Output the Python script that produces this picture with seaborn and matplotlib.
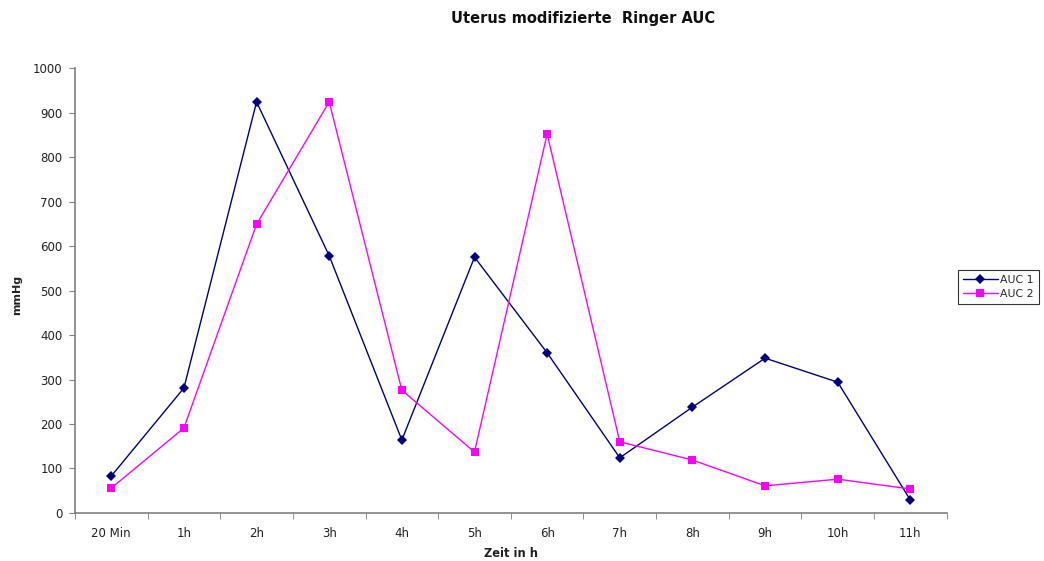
import matplotlib
matplotlib.use("Agg")
import matplotlib.pyplot as plt
import seaborn as sns
import pandas as pd
import numpy as np

categories = ["20 Min", "1h", "2h", "3h", "4h", "5h", "6h", "7h", "8h", "9h", "10h", "11h"]
auc1 = [83, 281, 924, 578, 164, 575, 360, 124, 238, 348, 294, 29]
auc2 = [56, 191, 649, 924, 276, 137, 852, 160, 119, 61, 76, 54]
series_names = ["AUC 1", "AUC 2"]
y_ticks = [0, 100, 200, 300, 400, 500, 600, 700, 800, 900, 1000]

sns.set_style("white")
plt.rcParams['font.family'] = ['DejaVu Sans']

pos = np.arange(len(categories))
df = pd.DataFrame({
    "pos": np.concatenate([pos, pos]),
    "value": auc1 + auc2,
    "series": [series_names[0]] * len(auc1) + [series_names[1]] * len(auc2),
})

fig = plt.figure(figsize=(10.44, 5.61), dpi=100)
ax = fig.add_axes([0.0718, 0.0856, 0.835, 0.793])

sns.lineplot(data=df, x="pos", y="value", hue="series", style="series",
             markers={"AUC 1": "D", "AUC 2": "s"}, dashes=False,
             palette={"AUC 1": "#000080", "AUC 2": "#FF00FF"},
             linewidth=1.0, markersize=6, markeredgewidth=0, ax=ax, legend=True)
for line in ax.lines:
    if line.get_marker() == "D":
        line.set_markersize(5)

ax.set_xlim(-0.5, len(categories) - 0.5)
ax.set_ylim(0, 1000)
ax.set_yticks(y_ticks)
ax.set_yticklabels([str(t) for t in y_ticks], fontsize=8.5, color="#222222")
ax.set_xticks(pos)
ax.set_xticklabels(categories, fontsize=8.5, color="#222222")
ax.set_xticks(np.arange(-0.5, len(categories)), minor=True)
ax.tick_params(axis="x", which="major", length=0, pad=10)
ax.tick_params(axis="x", which="minor", length=4, color="#808080", direction="out", bottom=True)
ax.tick_params(axis="y", which="major", length=4, color="#808080", direction="out", left=True, pad=5)

for side in ["top", "right"]:
    ax.spines[side].set_visible(False)
for side in ["left", "bottom"]:
    ax.spines[side].set_color("#808080")
    ax.spines[side].set_linewidth(1.2)

ax.set_xlabel("Zeit in h", fontsize=8.3, fontweight="bold", labelpad=5, color="#222222")
ax.set_ylabel("mmHg", fontsize=8, fontweight="bold", color="#222222")
ax.yaxis.set_label_coords(-0.061, 0.49)
fig.text(0.5585, 1 - 18.5 / 561, "Uterus modifizierte  Ringer AUC", fontsize=10.5,
         fontweight="bold", ha="center", va="center", color="#111111")

leg = ax.legend(loc="upper left", bbox_to_anchor=(958 / 1044, 1 - 270 / 561),
                bbox_transform=fig.transFigure, borderaxespad=0, fontsize=7.8,
                frameon=True, fancybox=False, edgecolor="black", handlelength=3.2,
                borderpad=0.45, labelspacing=0.4, handletextpad=0.25)
leg.get_frame().set_linewidth(0.8)

fig.savefig("out.png", dpi=100)
